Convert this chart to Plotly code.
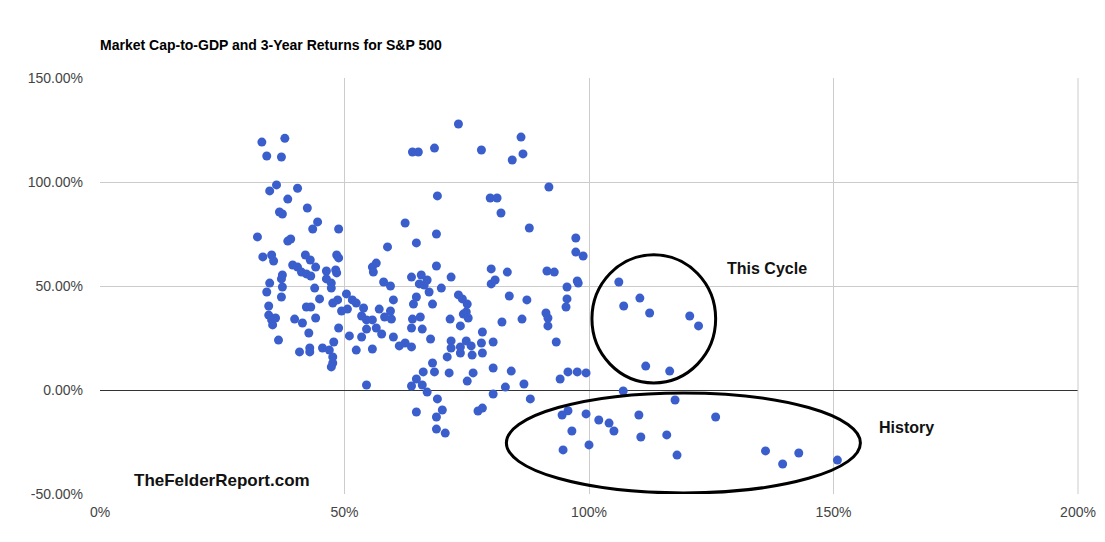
import plotly.graph_objects as go

cap_to_gdp = [33.1,37.8,34.1,37.1,68.4,63.9,65.1,36.1,34.7,40.4,38.4,42.4,36.7,37.3,44.5,43.5,48.8,32.2,38.4,39,62.4,64.7,69,68.8,58.8,
 33.3,35.1,35.5,42,43,44.1,48.4,48.8,39.4,40.4,41.2,42.2,43.1,46.3,48.2,48.4,37.3,37.1,34.7,37.3,46.3,47.3,47.3,43.9,34.1,37.1,44.9,34.5,
 42.2,43.1,47.6,48.6,50.4,51.6,52.4,49.4,50.6,53.9,34.5,35.1,35.9,35.3,39.8,41.4,44.1,53.5,54.5,55.7,57.1,58.2,59.4,59.6,60,58,59.4,
 55.7,56.5,55.9,63.7,65.7,66.9,65.3,66.3,67.3,64.7,64.1,68,63.9,65.5,63.7,65.9,67.6,48.8,42.7,51,53.5,54.5,56.5,57.6,60,36.5,47.8,
 42.9,42.9,40.8,45.5,46.9,47.6,47.6,47.3,52.4,55.7,61.2,62.4,63.7,68,68.4,66.1,54.5,64.7,63.7,65.9,66.9,
 73.3,78,86.1,84.3,86.5,91.8,79.8,81.2,82,87.8,97.3,97.3,98.8,68.8,71.8,80,83.3,80.8,80,91.4,92.9,95.5,97.6,97.8,69.8,
 73.3,74.1,75.1,74.9,74.3,75.3,83.7,87.3,95.5,95.3,91.2,91.6,91.6,86.3,82.2,71.6,73.7,78.2,71.8,71.8,71,74.9,73.7,73.7,75.9,76.1,
 78,78.2,80.4,93.3,71.4,76.3,80.4,84.1,95.7,97.6,99.4,75.1,82.9,86.7,94.1,80.4,69,88,64.7,70,68.8,77.3,78.2,68.8,70.6,
 106.1,107.1,110.4,112.4,120.6,122.4,111.6,116.5,107,
 94.5,95.7,94.7,96.5,99.4,100,102,104.1,105.1,110.2,110.6,115.9,117.6,118,125.9,136.1,139.6,142.9,150.8]
returns_3y = [119.2,121,112.5,112,116.3,114.4,114.4,98.6,95.7,97,91.8,87.5,85.6,84.6,80.8,77.4,77.4,73.6,71.6,72.6,80.3,70.7,93.3,75,68.8,
 64,64.9,62,64.9,62.5,59.1,64.9,63.5,60.1,59.1,56.7,55.8,54.8,57.2,57.7,56.3,55.3,53.4,51.4,49.5,53.4,51.4,49,49,47.1,44.7,43.8,40.4,
 39.9,39.9,41.8,43.3,46.2,43.3,41.8,38,38.9,39.4,36,33.7,34.6,31.3,34.1,32.2,34.6,35.6,33.7,33.7,38.9,35.1,38,34.1,43.3,51.9,50,
 59.1,61,56.7,54.3,55.3,52.9,51,50.5,47.1,44.7,41.3,41.3,34.1,35.1,29.8,29.3,24.5,29.8,27.4,26,25.5,29.3,29.8,26.9,25.5,24,23.1,
 20.2,18.3,18.3,20.2,19.2,15.9,13,11.1,19.2,19.7,21.2,22.6,20.7,13,8.7,8.7,2.4,5.3,1.9,2.4,-1,
 127.9,115.4,121.6,110.6,113.5,97.6,92.3,92.3,85.1,77.9,73.1,66.3,64.4,59.6,54.3,58.2,56.7,52.9,51,57.2,56.7,49.5,52.4,51.4,49,
 45.7,43.8,41.3,37.5,36.5,34.6,45.2,43.3,43.8,39.9,37,34.6,30.8,34.1,32.7,34.1,30.8,27.9,23.6,20.2,15.9,23.6,20.7,17.8,21.2,16.8,
 22.6,17.8,23.1,23.1,8.2,8.2,10.6,9.1,8.7,8.7,8.2,4.3,1.4,2.9,5.3,-1.9,-4.3,-4.3,-10.6,-9.6,-13,-10.1,-8.7,-18.8,-20.7,
 51.9,40.4,44.2,37,35.6,30.8,11.5,9.1,-0.5,
 -12,-10,-28.8,-19.7,-11.5,-26.4,-14.4,-15.9,-19.7,-12,-22.6,-21.6,-4.8,-31.3,-13,-29.3,-35.6,-30.3,-33.7]

x_ticks = [0, 50, 100, 150, 200]
y_ticks = [-50, 0, 50, 100, 150]

fig = go.Figure(go.Scatter(x=cap_to_gdp, y=returns_3y, mode="markers",
    marker=dict(color="#3a5fcd", size=9, line=dict(width=0))))

fig.update_layout(
    width=1105, height=542, plot_bgcolor="white", paper_bgcolor="white",
    margin=dict(l=92, r=35, t=70, b=56, autoexpand=False), showlegend=False,
    font=dict(family="Arial, Liberation Sans", size=14, color="#444"),
    title=dict(text="<b>Market Cap-to-GDP and 3-Year Returns for S&P 500</b>", x=92/1105, xanchor="left",
               y=1-37/542, yanchor="middle", font=dict(size=14, color="#000")),
    xaxis=dict(range=[0, 200], tickvals=x_ticks, ticktext=[f"{v}%" for v in x_ticks], automargin=False,
               ticklabelstandoff=8, showgrid=True, gridcolor="#cccccc", zeroline=False, showline=False),
    yaxis=dict(range=[-50, 150], tickvals=y_ticks, ticktext=[f"{v:.2f}%" for v in y_ticks], automargin=False,
               ticklabelstandoff=16, showgrid=True, gridcolor="#cccccc",
               zeroline=True, zerolinecolor="#333", zerolinewidth=1),
    shapes=[
        dict(type="circle", xref="x", yref="y", x0=100.6, x1=125.9, y0=3.4, y1=65, line=dict(color="black", width=3)),
        dict(type="circle", xref="x", yref="y", x0=83.1, x1=155.5, y0=-49.5, y1=-1.4, line=dict(color="black", width=3)),
        dict(type="line", xref="paper", yref="paper", x0=1, x1=1, y0=0, y1=1, line=dict(color="#cccccc", width=1)),
    ],
    annotations=[
        dict(text="<b>This Cycle</b>", x=136.5, y=58.5, xref="x", yref="y", showarrow=False, font=dict(size=16, color="#111")),
        dict(text="<b>History</b>", x=165, y=-18, xref="x", yref="y", showarrow=False, font=dict(size=16, color="#111")),
        dict(text="<b>TheFelderReport.com</b>", x=25, y=-43.5, xref="x", yref="y", showarrow=False, font=dict(size=17, color="#111")),
    ],
)
fig.write_html("out.html")
